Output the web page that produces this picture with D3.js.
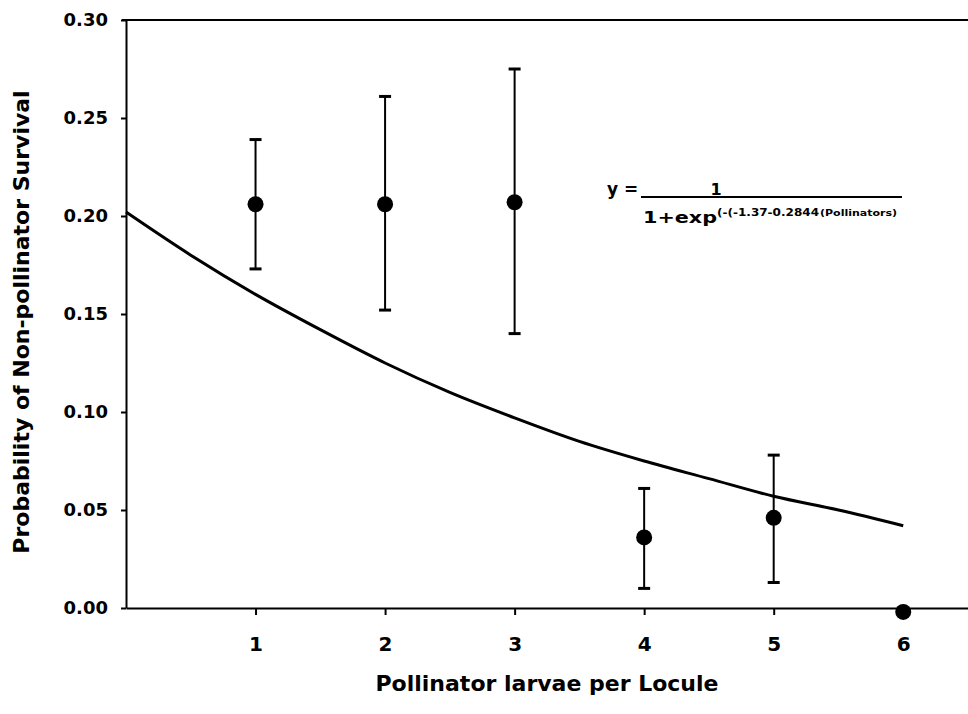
<!DOCTYPE html>
<html>
<head>
<meta charset="utf-8">
<script src="https://cdn.jsdelivr.net/npm/d3@7"></script>
<style>
  body { margin: 0; background: #fff; }
  text { font-family: "DejaVu Sans", Arial, sans-serif; font-weight: bold; fill: #000; }
</style>
</head>
<body>
<div id="chart"></div>
<script>
// observed means and error limits per larvae count
var larvae = [1, 2, 3, 4, 5, 6];
var survival = [0.206, 0.206, 0.207, 0.036, 0.046, -0.002];
var upper = [0.239, 0.261, 0.275, 0.061, 0.078, null];
var lower = [0.173, 0.152, 0.140, 0.010, 0.013, null];

// fitted curve
var fitX = [0, 0.5, 1, 1.5, 2, 2.5, 3, 3.5, 4, 4.5, 5, 5.5, 6];
var fitY = [0.202, 0.180, 0.160, 0.142, 0.125, 0.110, 0.097, 0.085, 0.075, 0.066, 0.057, 0.050, 0.042];

var yTicks = [0, 0.05, 0.10, 0.15, 0.20, 0.25, 0.30];
var xTicks = [1, 2, 3, 4, 5, 6];

var W = 968, H = 714;
var svg = d3.select('#chart').append('svg').attr('width', W).attr('height', H);

var x = d3.scaleLinear().domain([0, 6.5]).range([126, 968]);
var y = d3.scaleLinear().domain([0, 0.30]).range([608, 20]);

// top frame line
svg.append('line')
    .attr('x1', x(0) - 4).attr('x2', W)
    .attr('y1', y(0.30)).attr('y2', y(0.30))
    .attr('stroke', '#000').attr('stroke-width', 2);

var yAxis = svg.append('g')
    .attr('transform', 'translate(' + x(0) + ',0)')
    .call(d3.axisLeft(y).tickValues(yTicks).tickFormat(d3.format('.2f')).tickSize(5).tickSizeOuter(0).tickPadding(13));

var xAxis = svg.append('g')
    .attr('transform', 'translate(0,' + y(0) + ')')
    .call(d3.axisBottom(x).tickValues(xTicks).tickFormat(d3.format('d')).tickSize(7).tickSizeOuter(0).tickPadding(22));

[yAxis, xAxis].forEach(function(a) {
  a.select('.domain').attr('stroke', '#000').attr('stroke-width', 2);
  a.selectAll('.tick line').attr('stroke', '#000').attr('stroke-width', 2);
  a.selectAll('.tick text').style('font-family', '"DejaVu Sans", Arial, sans-serif').style('font-weight', 'bold').attr('fill', '#000');
});
yAxis.selectAll('.tick text').style('font-size', '18px');
xAxis.selectAll('.tick text').style('font-size', '20px');

// fitted curve
var line = d3.line()
    .x(function(d, i) { return x(fitX[i]); })
    .y(function(d) { return y(d); })
    .curve(d3.curveMonotoneX);
svg.append('path')
    .attr('d', line(fitY))
    .attr('fill', 'none').attr('stroke', '#000').attr('stroke-width', 3);

// error bars
var pts = larvae.map(function(d, i) { return { x: d, m: survival[i], hi: upper[i], lo: lower[i] }; });
var bars = svg.selectAll('g.err').data(pts.filter(function(d) { return d.hi != null; }))
    .enter().append('g').attr('class', 'err');
bars.append('line')
    .attr('x1', function(d) { return x(d.x); }).attr('x2', function(d) { return x(d.x); })
    .attr('y1', function(d) { return y(d.hi); }).attr('y2', function(d) { return y(d.lo); })
    .attr('stroke', '#000').attr('stroke-width', 2);
bars.selectAll('line.cap')
    .data(function(d) { return [{ x: d.x, v: d.hi }, { x: d.x, v: d.lo }]; })
    .enter().append('line').attr('class', 'cap')
    .attr('x1', function(d) { return x(d.x) - 6; }).attr('x2', function(d) { return x(d.x) + 6; })
    .attr('y1', function(d) { return y(d.v); }).attr('y2', function(d) { return y(d.v); })
    .attr('stroke', '#000').attr('stroke-width', 3);

svg.selectAll('circle.pt').data(pts)
    .enter().append('circle').attr('class', 'pt')
    .attr('cx', function(d) { return x(d.x); })
    .attr('cy', function(d) { return y(d.m); })
    .attr('r', 8).attr('fill', '#000');

// axis titles
svg.append('text')
    .attr('x', 547).attr('y', 691)
    .attr('text-anchor', 'middle')
    .style('font-size', '22px')
    .text('Pollinator larvae per Locule');

svg.append('text')
    .attr('transform', 'translate(29,' + 322 + ') rotate(-90)')
    .attr('text-anchor', 'middle')
    .style('font-size', '22px')
    .text('Probability of Non-pollinator Survival');

// equation
var eq = svg.append('g');
eq.append('text').attr('x', 607).attr('y', 195).style('font-size', '17px').text('y =');
eq.append('line').attr('x1', 641).attr('x2', 902).attr('y1', 197).attr('y2', 197)
    .attr('stroke', '#000').attr('stroke-width', 2);
eq.append('text').attr('x', 716).attr('y', 195).attr('text-anchor', 'middle').style('font-size', '16px').text('1');
eq.append('text').attr('x', 643).attr('y', 223).style('font-size', '16px')
    .attr('textLength', 74).attr('lengthAdjust', 'spacingAndGlyphs').text('1+exp');
eq.append('text').attr('x', 717).attr('y', 216).style('font-size', '11px')
    .attr('textLength', 102).attr('lengthAdjust', 'spacingAndGlyphs').text('(-(-1.37-0.2844');
eq.append('text').attr('x', 820).attr('y', 216).style('font-size', '9px')
    .attr('textLength', 77).attr('lengthAdjust', 'spacingAndGlyphs').text('(Pollinators)');
</script>
</body>
</html>
